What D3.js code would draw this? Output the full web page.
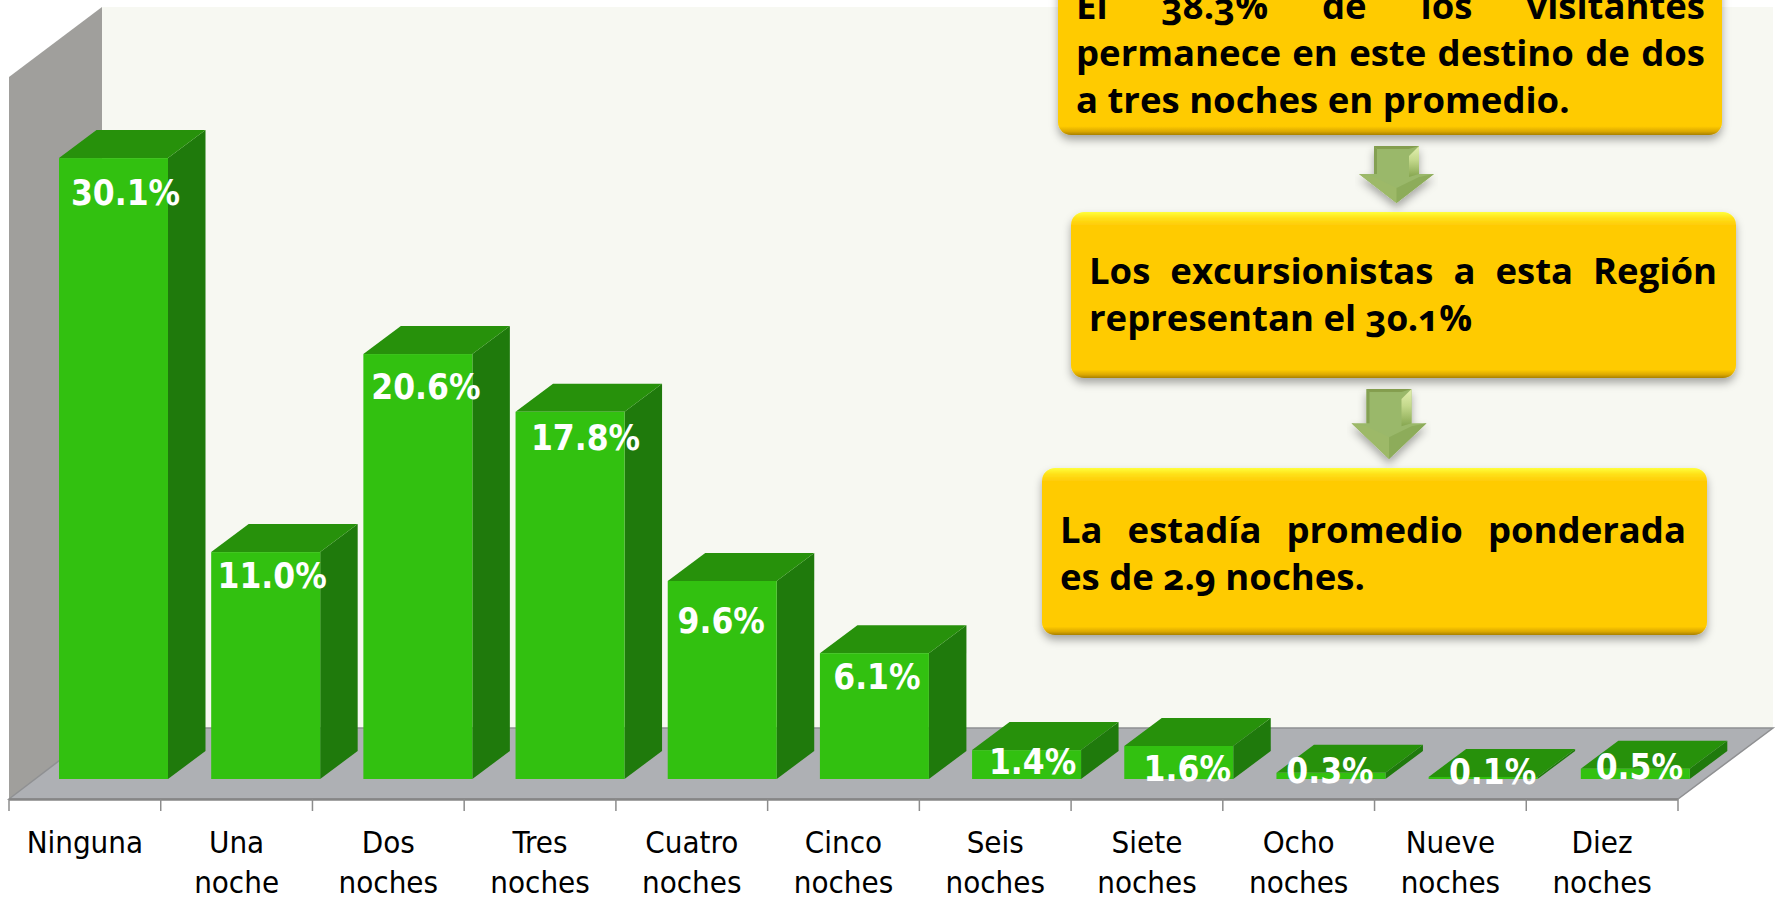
<!DOCTYPE html>
<html><head><meta charset="utf-8">
<script src="https://cdnjs.cloudflare.com/ajax/libs/d3/7.8.5/d3.min.js"></script>
<style>html,body{margin:0;padding:0;background:#fff;overflow:hidden}svg{display:block}</style>
</head><body><svg id="c" width="1778" height="899"></svg>
<script>
const categories=["Ninguna","Una noche","Dos noches","Tres noches","Cuatro noches","Cinco noches","Seis noches","Siete noches","Ocho noches","Nueve noches","Diez noches"];
const values=[30.1,11.0,20.6,17.8,9.6,6.1,1.4,1.6,0.3,0.1,0.5];
const callouts=[
 {lines:["El 38.3% de los visitantes","permanece en este destino de dos","a tres noches en promedio."],justify:[true,true,false]},
 {lines:["Los excursionistas a esta Región","representan el 30.1%"],justify:[true,false]},
 {lines:["La estadía promedio ponderada","es de 2.9 noches."],justify:[true,false]}
];
// layout (not data)
const L={x0:9,x1:1678,barEnd:1683,floorFront:799,floorBack:728,dxWall:93,dxEnd:95,top:77,back:7,baseY:779,depthX:37.5,depthY:28,barW:109,barInset:50};
const labelNudge=[[12,47],[7,36],[9,45],[17,38],[1,52],[5,36],[9,24],[12,35],[3,10],[14,7],[9,10]];
const boxes=[[1058,-40,664,175,1076,1705,[19,66,113]],[1071,212,665,166,1089,1717,[284,331]],[1042,468,665,167,1060,1686,[543,590]]];
const arrows=[[1396.5,146,203],[1389,389,459]];

const svg=d3.select("#c");
const defs=svg.append("defs");
const gy=defs.append("linearGradient").attr("id","boxG").attr("x1",0).attr("x2",0).attr("y1",0).attr("y2",1);
[[0,"#ffff3c"],[.035,"#ffe21a"],[.08,"#ffcb05"],[.95,"#ffcb05"],[.98,"#dba804"],[1,"#a88005"]].forEach(s=>gy.append("stop").attr("offset",s[0]).attr("stop-color",s[1]));
const f=defs.append("filter").attr("id","sh").attr("x","-5%").attr("y","-5%").attr("width","110%").attr("height","120%");
f.append("feDropShadow").attr("dx",0).attr("dy",5).attr("stdDeviation",4).attr("flood-color","#000").attr("flood-opacity",.33);
const ga=defs.append("linearGradient").attr("id","arG").attr("x1",0).attr("x2",0).attr("y1",0).attr("y2",1);
[[0,"#e4f0b0"],[.45,"#c4d98c"],[1,"#86a650"]].forEach(s=>ga.append("stop").attr("offset",s[0]).attr("stop-color",s[1]));

const x=d3.scaleBand().domain(categories).range([L.x0,L.x1]).padding(0);
const xBar=d3.scaleBand().domain(categories).range([L.x0,L.barEnd]).padding(0);
const y=d3.scaleLinear().domain([0,35]).range([L.baseY,L.baseY-722]);
const poly=p=>p.map(q=>q.join(",")).join(" ");

// walls and floor
svg.append("polygon").attr("points",poly([[L.x0+L.dxWall,L.back],[1773,L.back],[1773,L.floorBack],[L.x0+L.dxWall,L.floorBack]])).attr("fill","#f7f8f2");
svg.append("polygon").attr("points",poly([[L.x0,L.top],[L.x0+L.dxWall,L.back],[L.x0+L.dxWall,L.floorBack],[L.x0,L.floorFront]])).attr("fill","#a09f9c");
svg.append("polygon").attr("points",poly([[L.x0,L.floorFront],[L.x0+L.dxWall,L.floorBack],[L.x1+L.dxEnd,L.floorBack],[L.x1,L.floorFront]])).attr("fill","#aeb0b4").attr("stroke","#8f9092").attr("stroke-width",1.5);
svg.append("line").attr("x1",L.x0).attr("x2",L.x1).attr("y1",L.floorFront+.5).attr("y2",L.floorFront+.5).attr("stroke","#868686").attr("stroke-width",2.5);

// ticks
const ticks=categories.map(c=>x(c)).concat(L.x1);
svg.selectAll(".tk").data(ticks).join("line").attr("x1",d=>d).attr("x2",d=>d).attr("y1",L.floorFront).attr("y2",811).attr("stroke","#8c8c8c").attr("stroke-width",1.5);
const tl=svg.selectAll(".tl").data(categories).join("text").attr("text-anchor","middle")
 .attr("font-family","'DejaVu Sans'").style("font-stretch","condensed").attr("font-size",31).attr("fill","#000");
tl.each(function(c){const w=c.split(" "),t=d3.select(this);
 w.forEach((s,i)=>t.append("tspan").attr("x",x(c)+x.bandwidth()/2).attr("y",853+i*40).text(s));});

// bars
const bars=svg.selectAll(".bar").data(values).join("g");
const bx=i=>xBar(categories[i])+L.barInset;
bars.append("polygon").attr("fill","#1f7a0c").attr("points",(d,i)=>poly([[bx(i)+L.barW,y(d)],[bx(i)+L.barW+L.depthX,y(d)-L.depthY],[bx(i)+L.barW+L.depthX,y(0)-L.depthY],[bx(i)+L.barW,y(0)]]));
bars.append("polygon").attr("fill","#27910b").attr("points",(d,i)=>poly([[bx(i),y(d)],[bx(i)+L.depthX,y(d)-L.depthY],[bx(i)+L.barW+L.depthX,y(d)-L.depthY],[bx(i)+L.barW,y(d)]]));
bars.append("rect").attr("fill","#32c110").attr("x",(d,i)=>bx(i)).attr("y",d=>y(d)).attr("width",L.barW).attr("height",d=>y(0)-y(d));
bars.append("text").attr("x",(d,i)=>bx(i)+L.barW/2+labelNudge[i][0]-i*.5).attr("y",(d,i)=>y(d)+labelNudge[i][1])
 .attr("text-anchor","middle").attr("font-family","'DejaVu Sans'").style("font-stretch","condensed").attr("font-weight","bold").attr("font-size",35).attr("fill","#fff")
 .text(d=>d.toFixed(1)+"%");

// arrows
arrows.forEach(([cx,t,tip])=>{
 const h=tip-t,neck=t+h*.49,sw=22.5,hw=37.5,b=10;
 const g=svg.append("g").attr("filter","url(#sh)");
 g.append("polygon").attr("points",poly([[cx-sw,t],[cx+sw,t],[cx+sw,neck],[cx+hw,neck],[cx,tip],[cx-hw,neck],[cx-sw,neck]])).attr("fill","#9ab86a");
 g.append("polygon").attr("points",poly([[cx-hw,neck],[cx,tip],[cx,neck+14],[cx-sw,neck+3]])).attr("fill","#9db968");
 g.append("polygon").attr("points",poly([[cx+hw,neck],[cx,tip],[cx,neck+14],[cx+sw,neck+3]])).attr("fill","#8dac5a");
 g.append("polygon").attr("points",poly([[cx+sw,t],[cx+sw,neck],[cx+sw-b,neck+3],[cx+sw-b,t+b]])).attr("fill","url(#arG)");
 g.append("polygon").attr("points",poly([[cx-sw,t],[cx+sw,t],[cx+sw-b,t+3],[cx-sw+3,t+3]])).attr("fill","#86a050");
 g.append("polygon").attr("points",poly([[cx-sw,t],[cx-sw+3,t+3],[cx-sw+3,neck],[cx-sw,neck]])).attr("fill","#84a052");
});

// callouts
callouts.forEach((c,k)=>{
 const [bxx,by,bw,bh,tx0,tx1,bl]=boxes[k];
 svg.append("rect").attr("x",bxx).attr("y",by).attr("width",bw).attr("height",bh).attr("rx",13).attr("fill","url(#boxG)").attr("filter","url(#sh)");
 c.lines.forEach((ln,i)=>{
  const t=svg.append("text").attr("x",tx0).attr("y",bl[i]).attr("font-family","'Open Sans'").attr("font-weight","bold").attr("font-size",36.5).attr("fill","#000").style("font-variant-numeric","oldstyle-nums").text(ln);
  if(c.justify[i]){
   const w=t.node().getComputedTextLength(),n=ln.split(" ").length-1;
   t.attr("word-spacing",(tx1-tx0-w)/n);
  }
 });
});
</script></body></html>
